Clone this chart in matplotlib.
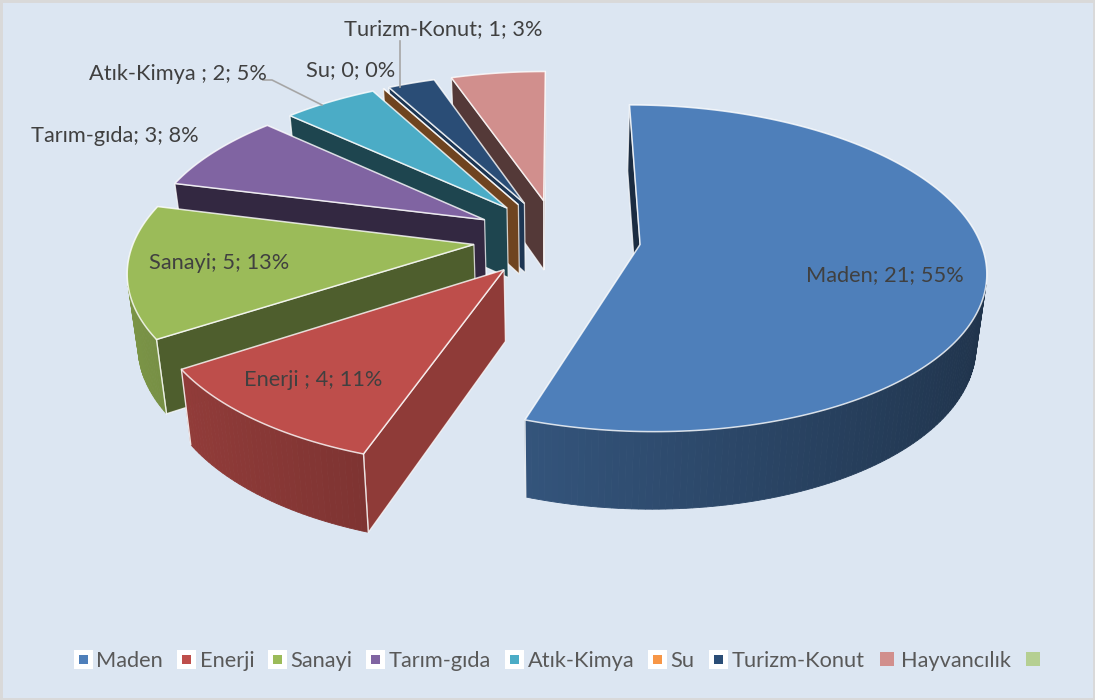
import numpy as np
import matplotlib
matplotlib.use("Agg")
import matplotlib.pyplot as plt
from matplotlib.patches import Polygon, Rectangle
from matplotlib.lines import Line2D

# ---- data ----
categories = ["Maden", "Enerji", "Sanayi", "Tarım-gıda", "Atık-Kimya", "Su", "Turizm-Konut", "Hayvancılık"]
values = [21, 4, 5, 3, 2, 0, 1, 2]
percents = [55, 11, 13, 8, 5, 0, 3]
legend_labels = categories + [" "]
label_texts = ["Maden; 21; 55%", "Enerji ; 4; 11%", "Sanayi; 5; 13%", "Tarım-gıda; 3; 8%",
               "Atık-Kimya ; 2; 5%", "Su; 0; 0%", "Turizm-Konut; 1; 3%"]

# ---- style ----
top_colors = ["#4e7fba", "#be4e4b", "#9bbb59", "#8064a2", "#4bacc6", "#f79646", "#2a4d76", "#d18f8d", "#b5cf92"]
wall_shade = [0.35, 0.75, 0.50, 0.40, 0.40, 0.45, 0.70, 0.40]
label_pos = [(885, 275), (313, 380), (219, 263), (115, 136), (178, 74), (351, 70), (443, 29)]
BG = "#dce6f2"
cx, cy, R, TR, K = 557.0, 238.0, 339.0, 158.0, 0.145
EXPLODE = 0.247
FS = 15.7
plt.rcParams["font.family"] = ["Lato", "DejaVu Sans"]

fig = plt.figure(figsize=(10.95, 7.0), dpi=100, facecolor=BG)
ax = fig.add_axes([0, 0, 1, 1])
ax.set_xlim(0, 1095)
ax.set_ylim(700, 0)
ax.axis("off")
ax.add_patch(Rectangle((0, 0), 1095, 700, fc="none", ec="#d9d9d9", lw=3.5, zorder=0))


def project(X, Y):
    s = 1 / (1 - K * Y)
    return np.array([cx + R * X * s, cy + TR * Y * s])


def lower(p):
    return np.array([cx + (p[0] - cx) * 0.975, p[1] + 62 + 0.036 * p[1]])


def shoelace(pts):
    pts = np.asarray(pts)
    x, y = pts[:, 0], pts[:, 1]
    return 0.5 * np.sum(x * np.roll(y, -1) - np.roll(x, -1) * y)


def shade(color, f):
    rgb = np.array(matplotlib.colors.to_rgb(color))
    return tuple(rgb * f)


total = sum(values)
edges = np.concatenate([[0], np.cumsum(values)]) / total * 360.0
order = sorted(range(len(values)),
               key=lambda i: -np.cos(np.radians((edges[i] + edges[i + 1]) / 2)))

z = 2
for i in order:
    a0, a1 = edges[i], edges[i + 1]
    b = np.radians((a0 + a1) / 2)
    ox, oy = EXPLODE * np.sin(b), -EXPLODE * np.cos(b)
    thetas = np.radians(np.linspace(a0, a1, max(2, int(a1 - a0) + 2)))
    apex = project(ox, oy)
    arc = [project(ox + np.sin(t), oy - np.cos(t)) for t in thetas]
    boundary = [apex] + arc + [apex]
    col = top_colors[i]
    # side faces
    for j in range(len(boundary) - 1):
        p, q = boundary[j], boundary[j + 1]
        quad = [p, q, lower(q), lower(p)]
        if shoelace(quad) >= 0:
            continue
        radial = j == 0 or j == len(boundary) - 2
        if radial:
            ax.add_patch(Polygon(quad, closed=True, fc=shade(col, wall_shade[i]),
                                 ec=(1, 1, 1, 0.75), lw=0.9, zorder=z))
        else:
            f = 0.6 - 0.2 * np.sin(thetas[j - 1])
            c = shade(col, f)
            ax.add_patch(Polygon(quad, closed=True, fc=c, ec=c, lw=0.6, zorder=z))
    # corner lines on the outer wall ends
    for p, t in ((arc[0], thetas[0]), (arc[-1], thetas[-1])):
        if -np.cos(t) > 0.2 and a1 > a0:
            lp = lower(p)
            ax.plot([p[0], lp[0]], [p[1], lp[1]], color="white", lw=1.0, alpha=0.85, zorder=z + 0.5)
    # top
    ax.add_patch(Polygon([apex] + arc, closed=True, fc=col, ec=(1, 1, 1, 0.8), lw=1.1, zorder=z + 0.6))
    z += 1

# leader lines
lead_color = "#a6a6a6"
ax.plot([263, 272, 322], [80, 80, 105], color=lead_color, lw=1.2, zorder=40)
ax.plot([400, 400], [41, 87], color=lead_color, lw=1.2, zorder=40)

# data labels
for txt, (x, y) in zip(label_texts, label_pos):
    ax.text(x, y, txt, ha="center", va="center", fontsize=FS, color="#404040", zorder=50)

# legend
handles = []
for i, lab in enumerate(legend_labels):
    boxed = i < 7
    handles.append(Line2D([], [], ls="none", marker="s",
                          mfc=top_colors[i],
                          mec="white" if boxed else top_colors[i],
                          mew=3.6 if boxed else 0,
                          ms=9.4 if boxed else 10.1,
                          label=lab))
leg = ax.legend(handles=handles, ncol=9, loc="center", bbox_to_anchor=(563 / 1095, 1 - 661 / 700),
                frameon=False, fontsize=FS, labelcolor="#595959",
                handlelength=0.85, handletextpad=0.2, columnspacing=0.62, borderpad=0, borderaxespad=0)

fig.savefig("out.png", dpi=100, facecolor=BG)
